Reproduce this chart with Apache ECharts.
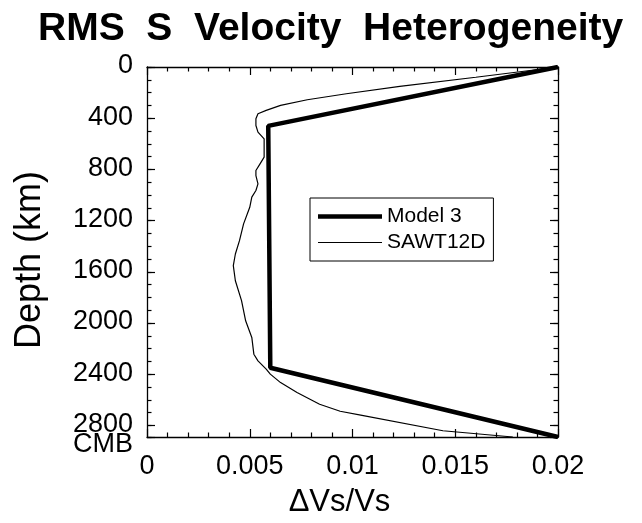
<!DOCTYPE html>
<html>
<head>
<meta charset="utf-8">
<title>RMS S Velocity Heterogeneity</title>
<script src="https://cdn.jsdelivr.net/npm/echarts@6.0.0/dist/echarts.min.js"></script>
<style>
  html, body { margin: 0; padding: 0; background: #fff; }
  #chart { width: 642px; height: 523px; }
</style>
</head>
<body>
<div id="chart"></div>
<script>
// Model 3 (thick line): dVs/Vs against depth in km
const model3Dv = [0.02, 0.0059, 0.006, 0.02];
const model3Depth = [0, 460, 2350, 2891];

// SAWT12D (thin line)
const sawtDv = [
  0.0200, 0.0160, 0.0123, 0.0097, 0.0078, 0.0065, 0.0058, 0.0054, 0.0053, 0.0053,
  0.0054, 0.0057, 0.0057, 0.0057, 0.0055, 0.0053, 0.0053, 0.0054, 0.0053, 0.0051,
  0.0050, 0.0047, 0.0045, 0.0043, 0.0042, 0.0043, 0.0046, 0.0048, 0.0051, 0.0052,
  0.0054, 0.0058, 0.0060, 0.0065, 0.0073, 0.0084, 0.0094, 0.0104, 0.0144, 0.0178
];
const sawtDepth = [
  0, 80, 151, 209, 256, 300, 339, 365, 404, 457,
  509, 561, 626, 704, 757, 809, 848, 913, 965, 1017,
  1096, 1226, 1357, 1461, 1552, 1670, 1826, 1983, 2113, 2244,
  2296, 2361, 2400, 2466, 2544, 2635, 2690, 2720, 2842, 2891
];

const CMB_DEPTH = 2891;
const FONT = "'Liberation Sans', Arial, Helvetica, sans-serif";

const toPairs = (xs, ys) => xs.map((x, i) => [x, ys[i]]);

const chart = echarts.init(document.getElementById('chart'), null, { renderer: 'canvas' });

const tickLine = { color: '#000', width: 1.2 };

function xAxisDef(position, withLabels) {
  return {
    type: 'value',
    position,
    min: 0,
    max: 0.02,
    interval: 0.005,
    axisLine: { show: true, onZero: false, lineStyle: { color: '#000', width: 1.3 } },
    axisTick: { show: true, inside: true, length: 8, lineStyle: tickLine },
    minorTick: { show: true, splitNumber: 5, length: 4.5, lineStyle: tickLine },
    splitLine: { show: false },
    minorSplitLine: { show: false },
    axisLabel: withLabels
      ? { show: true, margin: 16, fontSize: 27, color: '#000', fontFamily: FONT }
      : { show: false },
    name: withLabels ? 'ΔVs/Vs' : '',
    nameLocation: 'middle',
    nameGap: 50,
    nameTextStyle: { fontSize: 31, color: '#000', fontFamily: FONT, padding: [0, 26, 0, 0] }
  };
}

// labels: 'depth' shows 0..2800, 'cmb' shows only the CMB label at the bottom
function yAxisDef(position, step, major, labels) {
  const label = { show: false };
  if (labels === 'depth') {
    Object.assign(label, {
      show: true, margin: 14, fontSize: 27, color: '#000', fontFamily: FONT,
      showMinLabel: true, showMaxLabel: true,
      formatter: v => (v === CMB_DEPTH ? '' : '{n|' + v + '}'),
      rich: { n: { fontSize: 27, fontFamily: FONT, color: '#000', padding: [0, 0, 2, 0] } }
    });
  } else if (labels === 'cmb') {
    Object.assign(label, {
      show: true, margin: 14, color: '#000', fontFamily: FONT,
      showMinLabel: true, showMaxLabel: true,
      formatter: v => (v === CMB_DEPTH ? '{c|CMB}' : ''),
      rich: { c: { fontSize: 27, fontFamily: FONT, color: '#000', padding: [16, 0, 0, 0] } }
    });
  }
  return {
    type: 'value',
    position,
    inverse: true,
    min: 0,
    max: CMB_DEPTH,
    interval: step,
    axisLine: { show: major, onZero: false, lineStyle: { color: '#000', width: 1.3 } },
    axisTick: { show: true, inside: true, length: major ? 8 : 4.5, lineStyle: tickLine },
    splitLine: { show: false },
    axisLabel: label,
    name: labels === 'depth' ? 'Depth (km)' : '',
    nameLocation: 'middle',
    nameGap: 99,
    nameRotate: 90,
    nameTextStyle: { fontSize: 36, color: '#000', fontFamily: FONT, padding: [0, 16, 0, 0] }
  };
}

const option = {
  animation: false,
  backgroundColor: '#fff',
  title: {
    text: 'RMS  S  Velocity  Heterogeneity',
    left: 38,
    top: 10,
    padding: 0,
    textStyle: { fontSize: 39, fontWeight: 'bold', color: '#000', fontFamily: FONT }
  },
  grid: { left: 147, right: 84, top: 67, bottom: 81, containLabel: false },
  legend: {
    orient: 'vertical',
    left: 310,
    top: 198,
    padding: [8, 8, 8, 8],
    itemGap: 5,
    itemWidth: 64,
    itemHeight: 12,
    borderColor: '#000',
    borderWidth: 1,
    backgroundColor: '#fff',
    itemStyle: { borderWidth: 0 },
    textStyle: { fontSize: 21, color: '#000', fontFamily: FONT },
    data: [
      { name: 'Model 3', icon: 'path://M0,0 H64 V4.5 H0 Z' },
      { name: 'SAWT12D', icon: 'path://M0,0 H64 V1.2 H0 Z' }
    ]
  },
  xAxis: [xAxisDef('bottom', true), xAxisDef('top', false)],
  yAxis: [
    yAxisDef('left', 400, true, 'depth'),
    yAxisDef('left', 100, false, 'cmb'),
    yAxisDef('right', 400, true, null),
    yAxisDef('right', 100, false, null)
  ],
  series: [
    {
      name: 'Model 3',
      type: 'line',
      xAxisIndex: 0,
      yAxisIndex: 0,
      data: toPairs(model3Dv, model3Depth),
      symbol: 'none',
      color: '#000',
      itemStyle: { color: '#000', borderWidth: 0 },
      lineStyle: { color: '#000', width: 4.5 },
      z: 3
    },
    {
      name: 'SAWT12D',
      type: 'line',
      xAxisIndex: 0,
      yAxisIndex: 0,
      data: toPairs(sawtDv, sawtDepth),
      symbol: 'none',
      color: '#000',
      itemStyle: { color: '#000', borderWidth: 0 },
      lineStyle: { color: '#000', width: 1.2 },
      z: 2
    }
  ]
};

chart.setOption(option);
</script>
</body>
</html>
